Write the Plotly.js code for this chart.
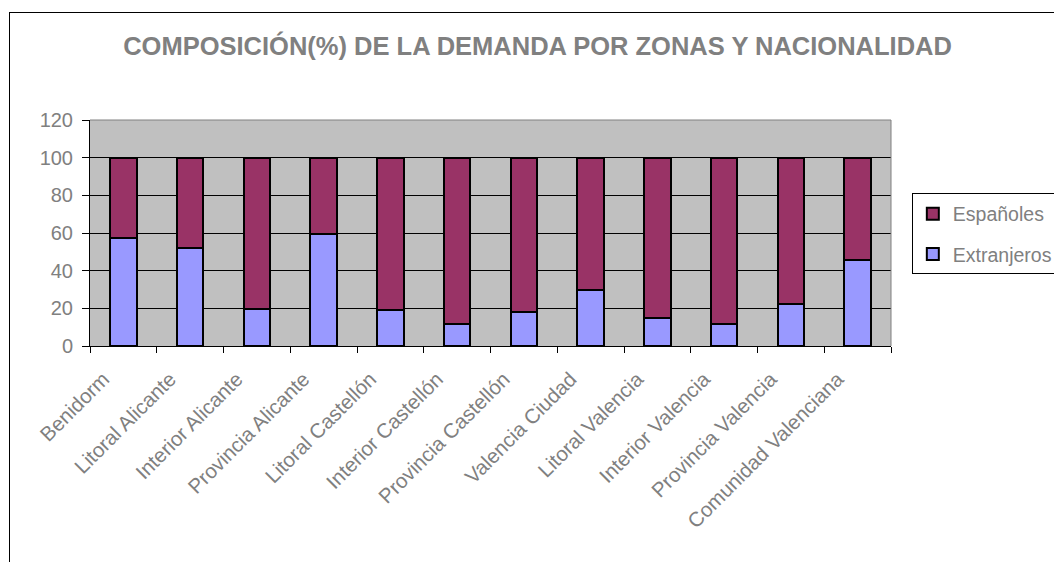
<!DOCTYPE html>
<html><head><meta charset="utf-8">
<script src="https://cdn.plot.ly/plotly-3.0.1.min.js"></script>
<style>body{margin:0;padding:0;background:#fff}#wrap{position:relative;width:1054px;height:562px;overflow:hidden}#chart{width:1054px;height:562px}
#frame{position:absolute;left:9px;top:12px;width:1100px;height:600px;border-left:1px solid #000;border-top:1px solid #000;pointer-events:none}</style>
</head><body><div id="wrap"><div id="chart"></div><div id="frame"></div></div>
<script>
const categories = ["Benidorm","Litoral Alicante","Interior Alicante","Provincia Alicante","Litoral Castellón","Interior Castellón","Provincia Castellón","Valencia Ciudad","Litoral Valencia","Interior Valencia","Provincia Valencia","Comunidad Valenciana"];
const extranjeros = [57.5, 52.2, 19.9, 59.5, 19.2, 11.5, 17.9, 29.8, 14.7, 11.5, 22.2, 45.8];
const espanoles = extranjeros.map(v => +(100 - v).toFixed(1));
const yTicks = [0, 20, 40, 60, 80, 100, 120];

const gray = '#808080';
const traces = [
  {type:'bar', name:'Extranjeros', x:categories, y:extranjeros, legendgroup:'b', legendrank:2,
   marker:{color:'#9999FF', line:{color:'#000', width:2}}},
  {type:'bar', name:'Españoles', x:categories, y:espanoles, legendgroup:'a', legendrank:1,
   marker:{color:'#993366', line:{color:'#000', width:2}}}
];
const layout = {
  width:1054, height:562,
  margin:{l:90, r:163, t:120, b:216, autoexpand:false},
  paper_bgcolor:'#fff', plot_bgcolor:'#C0C0C0',
  barmode:'stack', bargap:0.6,
  font:{family:'Liberation Sans, Arial, sans-serif', color:gray},
  title:{text:'<b>COMPOSICIÓN(%) DE LA DEMANDA POR ZONAS Y NACIONALIDAD</b>',
    font:{size:25.5, color:gray}, x:0.51, xanchor:'center', y:0.918, yanchor:'middle'},
  xaxis:{type:'category', tickangle:-45, tickfont:{size:20.5, color:gray},
    ticks:'outside', tickson:'boundaries', ticklen:6, tickcolor:'#000',
    ticklabelstandoff:12, ticklabelshift:-20,
    showline:true, linecolor:'#000', linewidth:1, mirror:false, showgrid:false},
  yaxis:{range:[0,120], tickvals:yTicks, tickfont:{size:20, color:gray},
    ticks:'outside', ticklen:7, tickcolor:'#000', ticklabelstandoff:5,
    showline:true, linecolor:'#000', linewidth:1,
    showgrid:true, gridcolor:'#000', gridwidth:1, zeroline:false},
  legend:{x:1.026, xanchor:'left', y:0.675, yanchor:'top', traceorder:'grouped',
    bordercolor:'#000', borderwidth:1, bgcolor:'#fff', font:{size:19.5, color:gray},
    itemwidth:30, tracegroupgap:12},
  shapes:[
    {type:'line', xref:'paper', yref:'paper', x0:0, x1:1, y0:1, y1:1, line:{color:gray, width:1}},
    {type:'line', xref:'paper', yref:'paper', x0:1, x1:1, y0:0, y1:1, line:{color:gray, width:1}}
  ]
};
Plotly.newPlot('chart', traces, layout, {displayModeBar:false, staticPlot:true});
</script></body></html>
